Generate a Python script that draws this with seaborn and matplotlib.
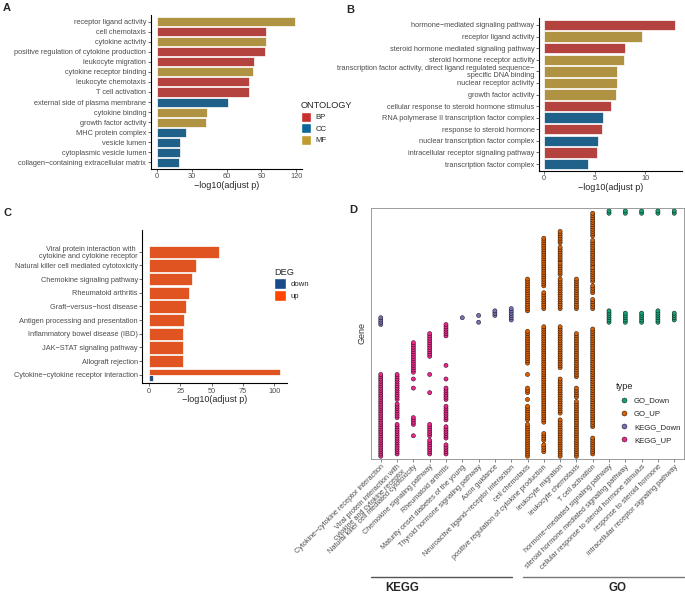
import numpy as np
import pandas as pd
import seaborn as sns
import matplotlib.pyplot as plt
import matplotlib.transforms as transforms
from matplotlib.patches import Patch

sns.set_style('white')
plt.rcParams['font.family'] = ['Liberation Sans', 'DejaVu Sans']

# ---------------- data ----------------
# panel A: GO enrichment of up genes
a_terms = ['receptor ligand activity', 'cell chemotaxis', 'cytokine activity',
           'positive regulation of cytokine production', 'leukocyte migration',
           'cytokine receptor binding', 'leukocyte chemotaxis', 'T cell activation',
           'external side of plasma membrane', 'cytokine binding', 'growth factor activity',
           'MHC protein complex', 'vesicle lumen', 'cytoplasmic vesicle lumen',
           'collagen\u2212containing extracellular matrix']
a_values = [119.2, 93.9, 94.0, 93.1, 83.5, 83.0, 79.2, 79.2, 61.5, 42.9, 42.3, 24.8, 19.6, 19.6, 18.7]
a_ont = ['MF', 'BP', 'MF', 'BP', 'BP', 'MF', 'BP', 'BP', 'CC', 'MF', 'MF', 'CC', 'CC', 'CC', 'CC']

# panel B: GO enrichment of down genes
b_terms = ['hormone\u2212mediated signaling pathway', 'receptor ligand activity',
           'steroid hormone mediated signaling pathway', 'steroid hormone receptor activity',
           'transcription factor activity, direct ligand regulated sequence\u2212\nspecific DNA binding',
           'nuclear receptor activity', 'growth factor activity',
           'cellular response to steroid hormone stimulus',
           'RNA polymerase II transcription factor complex', 'response to steroid hormone',
           'nuclear transcription factor complex', 'intracellular receptor signaling pathway',
           'transcription factor complex']
b_values = [12.97, 9.67, 8.02, 7.95, 7.2, 7.19, 7.13, 6.63, 5.87, 5.71, 5.38, 5.22, 4.39]
b_ont = ['BP', 'MF', 'BP', 'MF', 'MF', 'MF', 'MF', 'BP', 'CC', 'BP', 'CC', 'BP', 'CC']

# panel C: KEGG enrichment
c_terms = ['Viral protein interaction with \ncytokine and cytokine receptor',
           'Natural killer cell mediated cytotoxicity', 'Chemokine signaling pathway',
           'Rheumatoid arthritis', 'Graft\u2212versus\u2212host disease',
           'Antigen processing and presentation', 'Inflammatory bowel disease (IBD)',
           'JAK\u2212STAT signaling pathway', 'Allograft rejection',
           'Cytokine\u2212cytokine receptor interaction']
c_up = [56.0, 37.4, 34.7, 32.0, 29.7, 28.4, 27.6, 27.6, 27.1, 104.5]
c_down_term = 'Cytokine\u2212cytokine receptor interaction'
c_down = 3.7

# panel D: genes (index on y) per enriched term
d_terms = ['Cytokine\u2212cytokine receptor interaction',
           'Viral protein interaction with\ncytokine and cytokine receptor',
           'Natural killer cell mediated cytotoxicity', 'Chemokine signaling pathway',
           'Rheumatoid arthritis', 'Maturity onset diabetes of the young',
           'Thyroid hormone signaling pathway', 'Axon guidance',
           'Neuroactive ligand\u2212receptor interaction', 'cell chemotaxis',
           'positive regulation of cytokine production', 'leukocyte migration',
           'leukocyte chemotaxis', 'T cell activation',
           'hormone\u2212mediated signaling pathway', 'steroid hormone mediated signaling pathway',
           'cellular response to steroid hormone stimulus', 'response to steroid hormone',
           'intracellular receptor signaling pathway']
# (term index, [(first gene, last gene), ...])
kegg_up_genes = [
    (0, [(1, 37)]),
    (1, [(2, 15), (18, 24), (26, 37)]),
    (2, [(38, 51), (35, 35), (31, 31), (15, 18), (10, 10)]),
    (3, [(45, 55), (37, 37), (29, 29), (10, 15), (2, 8)]),
    (4, [(54, 59), (41, 41), (35, 35), (26, 31), (17, 23), (9, 14), (2, 6)]),
]
kegg_down_genes = [
    (0, [(59, 62)]),
    (5, [(62, 62)]),
    (6, [(60, 60), (63, 63)]),
    (7, [(63, 65)]),
    (8, [(61, 66)]),
]
go_up_genes = [
    (9, [(65, 79), (42, 56), (37, 37), (29, 31), (26, 26), (17, 23), (1, 15)]),
    (10, [(66, 73), (76, 97), (16, 58), (8, 11), (3, 6)]),
    (11, [(95, 100), (87, 93), (81, 86), (66, 79), (40, 58), (20, 35), (1, 17)]),
    (12, [(66, 79), (36, 55), (27, 31), (1, 25)]),
    (13, [(98, 108), (85, 96), (78, 84), (73, 76), (66, 70), (14, 57), (2, 9)]),
]
go_down_genes = [
    (14, [(108, 109), (60, 65)]),
    (15, [(108, 109), (60, 64)]),
    (16, [(108, 109), (60, 64)]),
    (17, [(108, 109), (60, 65)]),
    (18, [(108, 109), (61, 64)]),
]

ont_colors = {'BP': '#C8302C', 'CC': '#0D6699', 'MF': '#C29B30'}
deg_colors = {'down': '#1A4A8A', 'up': '#FF4500'}
type_colors = {'GO_Down': '#1B9E77', 'GO_UP': '#D95F02', 'KEGG_Down': '#7570B3', 'KEGG_UP': '#E7298A'}

TICK_FS = 5.3
TITLE_FS = 6.5
GRAY = '#4D4D4D'

fig = plt.figure(figsize=(6.85, 5.93), dpi=100)
W, H = 685, 593


def add_ax(left, right, top, bottom):
    return fig.add_axes([left / W, 1 - bottom / H, (right - left) / W, (bottom - top) / H])


def style_bar(ax):
    sns.despine(ax=ax)
    for s in ['left', 'bottom']:
        ax.spines[s].set_linewidth(0.8)
        ax.spines[s].set_color('black')
    ax.tick_params(axis='both', length=2, width=0.5, color='#333333',
                   labelsize=TICK_FS, labelcolor=GRAY, pad=1.2)
    ax.tick_params(axis='x', bottom=True)
    ax.tick_params(axis='y', left=True)
    ax.set_ylabel('')
    ax.set_xlabel('\u2212log10(adjust p)', fontsize=TITLE_FS, labelpad=0.5)
    for t in ax.get_yticklabels():
        t.set_linespacing(1.0)


# ---------------- A ----------------
ax_a = add_ax(150.7, 302, 15.5, 168.5)
df_a = pd.DataFrame({'term': a_terms, 'value': a_values, 'ONTOLOGY': a_ont})
sns.barplot(data=df_a, x='value', y='term', hue='ONTOLOGY', hue_order=['BP', 'CC', 'MF'],
            palette=ont_colors, dodge=False, width=0.9, edgecolor='white', linewidth=0.5,
            legend=False, ax=ax_a)
ax_a.set_xlim(-5.7, 125)
ax_a.set_ylim(len(a_terms) - 0.4, -0.6)
ax_a.set_xticks([0, 30, 60, 90, 120])
style_bar(ax_a)

fig.legend(handles=[Patch(facecolor=ont_colors[k], edgecolor='white', label=k) for k in ['BP', 'CC', 'MF']],
           title='ONTOLOGY', loc='upper left', bbox_to_anchor=(301 / W, 1 - 101 / H),
           frameon=False, fontsize=5.6, title_fontsize=6.6, handlelength=1.3, handleheight=1.6,
           labelspacing=0.2, handletextpad=0.6, borderpad=0, borderaxespad=0)._legend_box.align = 'left'

# ---------------- B ----------------
ax_b = add_ax(539, 682, 18, 171)
df_b = pd.DataFrame({'term': b_terms, 'value': b_values, 'ONTOLOGY': b_ont})
sns.barplot(data=df_b, x='value', y='term', hue='ONTOLOGY', hue_order=['BP', 'CC', 'MF'],
            palette=ont_colors, dodge=False, width=0.9, edgecolor='white', linewidth=0.5,
            legend=False, ax=ax_b)
ax_b.set_xlim(-0.5, 13.65)
ax_b.set_ylim(len(b_terms) - 0.4, -0.6)
ax_b.set_xticks([0, 5, 10])
style_bar(ax_b)

# ---------------- C ----------------
ax_c = add_ax(142.3, 286.5, 230, 383.3)
df_c1 = pd.DataFrame({'term': c_terms[:-1], 'value': c_up[:-1], 'DEG': 'up'})
df_c2 = pd.DataFrame({'term': [c_terms[-1], c_down_term], 'value': [c_up[-1], c_down],
                      'DEG': ['up', 'down']})
sns.barplot(data=df_c1, x='value', y='term', order=c_terms, color=deg_colors['up'],
            width=0.9, edgecolor='white', linewidth=0.5, ax=ax_c)
sns.barplot(data=df_c2, x='value', y='term', order=c_terms, hue='DEG', hue_order=['up', 'down'],
            palette=deg_colors, dodge=True, width=0.9, edgecolor='white', linewidth=0.5,
            legend=False, ax=ax_c)
ax_c.set_xlim(-5.2, 109.7)
ax_c.set_ylim(len(c_terms) - 0.37, -1.6)
ax_c.set_xticks([0, 25, 50, 75, 100])
style_bar(ax_c)

fig.legend(handles=[Patch(facecolor=deg_colors[k], edgecolor='white', label=k) for k in ['down', 'up']],
           title='DEG', loc='upper left', bbox_to_anchor=(274 / W, 1 - 268 / H),
           frameon=False, fontsize=5.6, title_fontsize=6.6, handlelength=1.5, handleheight=1.8,
           labelspacing=0.1, handletextpad=0.6, borderpad=0, borderaxespad=0)._legend_box.align = 'left'

# ---------------- D ----------------
ax_d = add_ax(371, 684, 208, 458.5)
rows = []
for tname, groups in [('KEGG_UP', kegg_up_genes), ('KEGG_Down', kegg_down_genes),
                      ('GO_UP', go_up_genes), ('GO_Down', go_down_genes)]:
    for pos, runs in groups:
        for g0, g1 in runs:
            for g in range(g0, g1 + 1):
                rows.append({'pos': pos, 'gene': g, 'type': tname})
df_d = pd.DataFrame(rows)
sns.scatterplot(data=df_d, x='pos', y='gene', hue='type',
                hue_order=['GO_Down', 'GO_UP', 'KEGG_Down', 'KEGG_UP'], palette=type_colors,
                s=9, edgecolor='black', linewidth=0.3, ax=ax_d)
ax_d.set_xlim(-0.6, len(d_terms) - 0.4)
ax_d.set_ylim(0, 110.3)
ax_d.set_xticks(range(len(d_terms)))
ax_d.set_xticklabels(d_terms, rotation=45, ha='right', va='top', rotation_mode='anchor',
                     linespacing=0.95)
ax_d.set_yticks([])
ax_d.tick_params(axis='x', bottom=True, length=2, width=0.5, color='#555555',
                 labelsize=5.2, labelcolor=GRAY, pad=1.5)
for s in ax_d.spines.values():
    s.set_color('#8c8c8c')
    s.set_linewidth(0.6)
ax_d.set_xlabel('')
ax_d.set_ylabel('Gene', fontsize=6.5, color='#333333', labelpad=3)
leg = ax_d.legend(title='type', loc='upper left', bbox_to_anchor=(616 / W, 1 - 382 / H),
                  bbox_transform=fig.transFigure, frameon=False, fontsize=5.6, title_fontsize=6.6,
                  markerscale=1.2, handlelength=2.0, handletextpad=0.3, labelspacing=0.75,
                  borderpad=0, borderaxespad=0)
leg._legend_box.align = 'left'

# KEGG / GO brackets under the axis
trans = transforms.blended_transform_factory(ax_d.transData, ax_d.transAxes)
ax_d.plot([-0.6, 8.05], [-0.473, -0.473], color='#555555', lw=1, transform=trans, clip_on=False)
ax_d.plot([8.72, 18.6], [-0.473, -0.473], color='#777777', lw=1, transform=trans, clip_on=False)
ax_d.text(1.3, -0.515, 'KEGG', fontsize=8.3, fontweight='bold', ha='center', va='center',
          transform=trans)
ax_d.text(14.55, -0.515, 'GO', fontsize=8.3, fontweight='bold', ha='center', va='center',
          transform=trans)

# panel letters
for lab, x, y in [('A', 3, 8), ('B', 346, 10), ('C', 3, 213), ('D', 349, 210)]:
    fig.text(x / W, 1 - y / H, lab, fontsize=8, fontweight='bold', ha='left', va='center')

fig.savefig('out.png', dpi=100)
